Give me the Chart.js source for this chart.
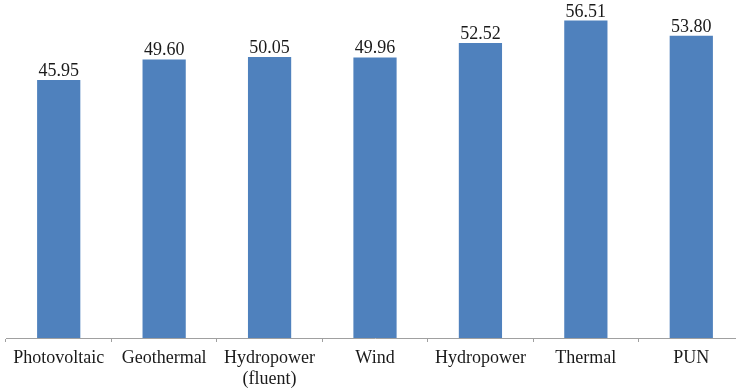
<!DOCTYPE html>
<html>
<head>
<meta charset="utf-8">
<script src="https://cdn.jsdelivr.net/npm/chart.js@4"></script>
<style>
  html, body { margin: 0; padding: 0; background: #fff; overflow: hidden; }
  #wrap { width: 744px; height: 392px; }
</style>
</head>
<body>
<div id="wrap"><canvas id="barChart"></canvas></div>
<script>
const categories = ['Photovoltaic', 'Geothermal', ['Hydropower', '(fluent)'], 'Wind', 'Hydropower', 'Thermal', 'PUN'];
const prices = [45.95, 49.60, 50.05, 49.96, 52.52, 56.51, 53.80];

const serif = "'Liberation Serif', 'Times New Roman', Times, serif";

// value labels above each bar
const valueLabels = {
  id: 'valueLabels',
  afterDatasetsDraw(chart) {
    const ctx = chart.ctx;
    const meta = chart.getDatasetMeta(0);
    ctx.save();
    ctx.font = '18px ' + serif;
    ctx.fillStyle = '#1a1a1a';
    ctx.textAlign = 'center';
    ctx.textBaseline = 'alphabetic';
    meta.data.forEach((bar, i) => {
      ctx.fillText(prices[i].toFixed(2), bar.x, bar.y - 4);
    });
    ctx.restore();
  }
};

function draw() {
  const ctxBar = document.getElementById('barChart');
  new Chart(ctxBar, {
    type: 'bar',
    data: {
      labels: categories,
      datasets: [{
        data: prices,
        backgroundColor: '#4f81bd',
        barPercentage: 0.41,
        categoryPercentage: 1
      }]
    },
    options: {
      responsive: true,
      maintainAspectRatio: false,
      animation: false,
      layout: { padding: { left: 6, right: 0, top: 1, bottom: 0 } },
      plugins: { legend: { display: false }, tooltip: { enabled: false } },
      scales: {
        x: {
          afterFit(scale) { scale.height = 54; },
          border: { display: true, color: '#a0a0a0', width: 1 },
          grid: { offset: true, drawOnChartArea: false, drawTicks: true, tickLength: 4, color: '#a0a0a0' },
          ticks: {
            color: '#1a1a1a',
            padding: 5,
            maxRotation: 0,
            autoSkip: false,
            font: { family: serif, size: 18, lineHeight: 1.2 }
          }
        },
        y: { display: false, min: 0, max: 60 }
      }
    },
    plugins: [valueLabels]
  });
}

document.fonts.load("18px 'Liberation Serif'").then(draw, draw);
</script>
</body>
</html>
